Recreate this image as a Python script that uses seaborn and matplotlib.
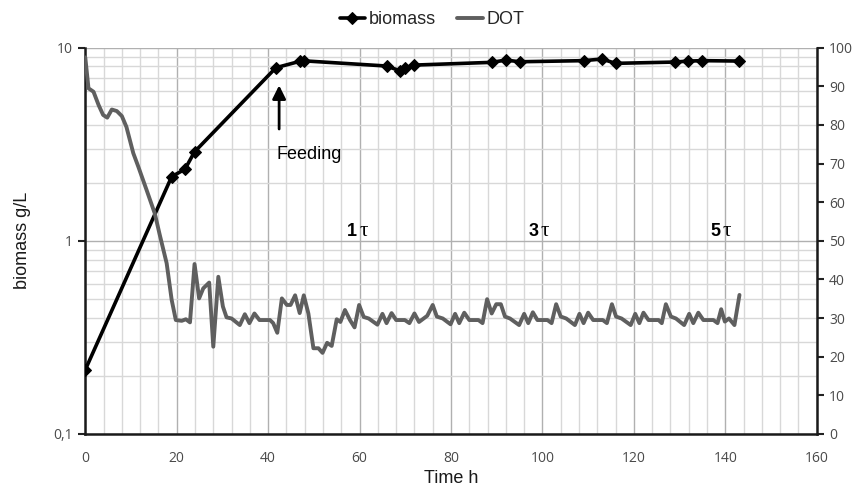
import matplotlib
matplotlib.use("Agg")
import matplotlib.pyplot as plt
import matplotlib.ticker as mticker
import numpy as np
import pandas as pd
import seaborn as sns

# ---------------- data ----------------
biomass_time = [0, 18.9, 21.8, 23.9, 41.7, 46.9, 47.9, 65.9, 68.8, 70.0, 72.0,
                88.9, 92.0, 95.0, 109.0, 113.0, 116.0, 129.0, 131.9, 135.0, 143.1]
biomass_val = [0.215, 2.15, 2.35, 2.89, 7.88, 8.5, 8.55, 8.04, 7.6, 7.88, 8.13,
               8.4, 8.63, 8.46, 8.57, 8.74, 8.3, 8.43, 8.53, 8.57, 8.53]

dot_time = [0, 0.7, 1.8, 2.9, 3.9, 4.8, 5.8, 6.9, 8.0, 9.0, 10.5, 11.6, 13.4, 15.2,
            16.3, 17.8, 18.9, 19.8, 21.1, 22.0, 22.9, 23.9, 24.9, 25.8, 27.1, 28.0,
            29.1, 30.1, 30.9, 32.0, 33.8, 34.9, 35.9, 37.0, 38.1, 40.4, 41.1, 42.0,
            43.0, 44.1, 44.9, 45.9, 46.9, 47.8, 48.8, 49.9, 51.0, 51.9, 52.9, 53.9,
            55.0, 55.8, 56.8, 57.9, 58.9, 59.9, 60.9, 62.0, 63.9, 65.0, 65.9, 67.0,
            68.0, 69.9, 70.9, 72.0, 73.0, 74.8, 76.0, 76.9, 78.2, 79.9, 80.9, 81.8,
            82.9, 84.0, 86.0, 86.9, 87.9, 88.9, 89.9, 90.9, 91.8, 92.9, 94.9, 96.0,
            96.9, 97.9, 98.9, 101.1, 102.0, 103.0, 104.0, 105.2, 107.1, 108.1, 109.0,
            110.0, 111.1, 113.2, 114.1, 115.2, 116.1, 117.3, 119.3, 120.3, 121.2,
            122.1, 123.2, 125.4, 126.1, 127.0, 128.1, 129.2, 131.0, 132.1, 133.0,
            134.1, 135.2, 137.4, 138.3, 139.1, 139.9, 140.8, 142.0, 143.1]
dot_val = [97.5, 89.5, 88.6, 85.2, 82.6, 81.9, 84.0, 83.6, 82.3, 79.5, 72.7, 69.2, 63.2, 57.1,
           51.5, 44.2, 34.7, 29.5, 29.3, 29.7, 28.9, 44.0, 35.1, 37.7, 39.2, 22.6,
           40.7, 33.0, 30.2, 29.9, 28.2, 31.0, 28.7, 31.2, 29.5, 29.5, 28.7, 26.2,
           35.1, 33.4, 33.4, 35.9, 31.3, 35.9, 31.2, 22.2, 22.2, 21.0, 23.6, 22.8,
           29.7, 29.0, 32.1, 29.5, 27.6, 33.4, 30.3, 29.9, 28.3, 31.1, 28.7, 31.3,
           29.5, 29.5, 28.7, 31.2, 29.0, 30.6, 33.4, 30.4, 29.9, 28.4, 31.1, 28.7,
           31.4, 29.5, 29.5, 28.7, 34.9, 31.2, 33.6, 33.6, 30.4, 29.9, 28.2, 31.1,
           28.7, 31.5, 29.5, 29.5, 28.7, 33.6, 30.4, 29.9, 28.2, 31.1, 28.7,
           31.4, 29.5, 29.5, 28.7, 33.6, 30.4, 29.9, 28.2, 31.1, 28.7,
           31.4, 29.5, 29.5, 28.7, 33.6, 30.4, 29.9, 28.2, 31.1, 28.7,
           31.4, 29.5, 29.5, 28.7, 32.3, 29.1, 29.9, 28.2, 36.0]

x_ticks = [0, 20, 40, 60, 80, 100, 120, 140, 160]
left_ticks = [0.1, 1, 10]
left_tick_labels = ["0,1", "1", "10"]
right_ticks = [0, 10, 20, 30, 40, 50, 60, 70, 80, 90, 100]
tau_labels = ["1", "3", "5"]
tau_x = [57.3, 96.9, 136.7]

# ---------------- style ----------------
sns.set_style("white")
plt.rcParams["font.family"] = ["Liberation Sans", "DejaVu Sans"]

fig = plt.figure(figsize=(8.58, 4.93), dpi=100)
ax = fig.add_axes([0.0994, 0.1197, 0.9519 - 0.0994, 0.9032 - 0.1197])
ax2 = ax.twinx()

bio_df = pd.DataFrame({"t": biomass_time, "v": biomass_val})
dot_df = pd.DataFrame({"t": dot_time, "v": dot_val})

sns.lineplot(data=bio_df, x="t", y="v", ax=ax, color="black", lw=2.6,
             marker="D", markersize=6.5, markeredgecolor="black",
             label="biomass", legend=False, zorder=3)
sns.lineplot(data=dot_df, x="t", y="v", ax=ax2, color="#5f5f5f", lw=2.8,
             label="DOT", legend=False, zorder=2)

# axes setup
ax.set_yscale("log")
ax.set_ylim(0.1, 10)
ax.set_xlim(0, 160)
ax2.set_ylim(0, 100)

ax.set_xticks(x_ticks)
ax.xaxis.set_minor_locator(mticker.MultipleLocator(4))
ax.set_yticks(left_ticks)
ax.set_yticklabels(left_tick_labels)
ax.yaxis.set_minor_locator(mticker.LogLocator(base=10, subs=np.arange(2, 10)))
ax.yaxis.set_minor_formatter(mticker.NullFormatter())
ax2.set_yticks(right_ticks)

ax.grid(which="minor", axis="both", color="#d8d8d8", lw=1.0)
ax.grid(which="major", axis="both", color="#b0b0b0", lw=1.0)
ax.set_axisbelow(True)
ax2.grid(False)

for lab in ax.get_xticklabels() + ax.get_yticklabels() + ax2.get_yticklabels():
    lab.set_fontfamily("Open Sans")
    lab.set_fontsize(10)
    lab.set_color("#4a4a4a")

ax.tick_params(axis="both", which="major", direction="out", length=5, width=1.5,
               color="#222222", pad=4)
ax.tick_params(axis="both", which="minor", length=0)
ax2.tick_params(axis="y", which="major", direction="out", length=5, width=1.5,
                color="#222222", pad=4)
ax.tick_params(axis="x", pad=7)

for a in (ax, ax2):
    a.spines["top"].set_visible(False)
    for s in ("left", "right", "bottom"):
        a.spines[s].set_color("#1a1a1a")
        a.spines[s].set_linewidth(1.8)
ax.spines["right"].set_visible(False)
ax2.spines["left"].set_visible(False)
ax2.spines["bottom"].set_visible(False)

ax.set_xlabel("Time h", fontsize=13, color="#1a1a1a", labelpad=3)
ax.set_ylabel("biomass g/L", fontsize=13, color="#1a1a1a", labelpad=16)
ax2.set_ylabel("")

# annotations
ax.annotate("", xy=(42.4, 6.6), xytext=(42.4, 3.67),
            arrowprops=dict(arrowstyle="-|>", lw=2, color="black", mutation_scale=20))
ax.text(41.9, 2.81, "Feeding", fontsize=13, ha="left", va="center", color="black")

for lab, xpos in zip(tau_labels, tau_x):
    ax2.text(xpos, 52.5, lab, fontsize=13, fontweight="bold", ha="left", va="center",
             color="black")
    ax2.text(xpos + 2.6, 52.5, "τ", fontsize=15, family="Liberation Serif",
             ha="left", va="center", color="black")

# legend
h1, l1 = ax.get_legend_handles_labels()
h2, l2 = ax2.get_legend_handles_labels()
fig.legend(h1 + h2, l1 + l2, loc="center", bbox_to_anchor=(432 / 858, 1 - 20 / 493),
           ncol=2, frameon=False, fontsize=13, handlelength=1.4, handletextpad=0.2,
           columnspacing=1.2, numpoints=1)

fig.savefig("out.png", dpi=100)
